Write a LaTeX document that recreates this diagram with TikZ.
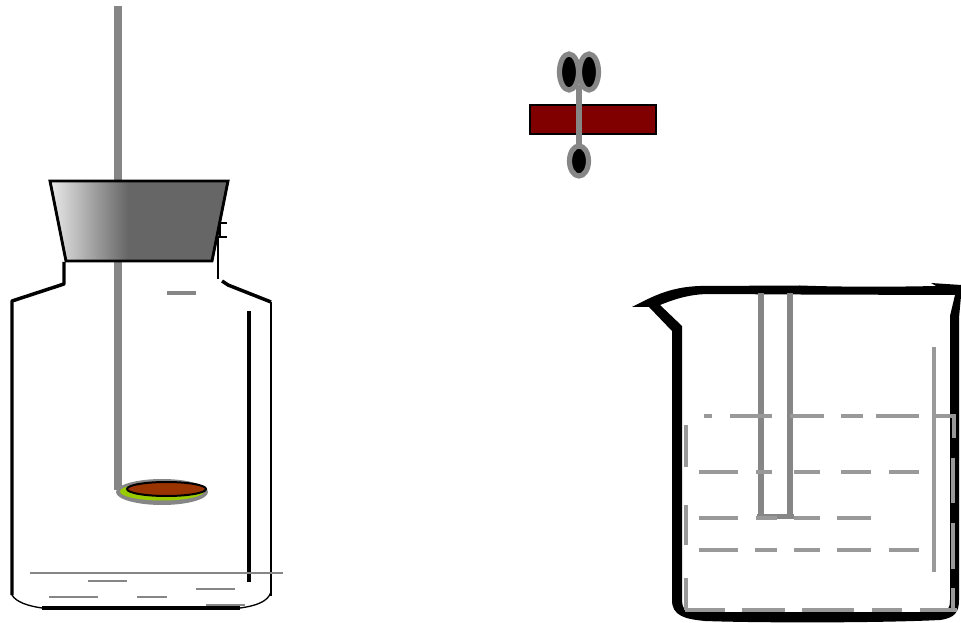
\documentclass[tikz,border=0pt]{standalone}
\usepackage{tikz}
\definecolor{rodg}{HTML}{868686}
\definecolor{dashg}{HTML}{999999}
\definecolor{stopd}{HTML}{666666}
\definecolor{stopl}{HTML}{EAEAEA}
\definecolor{brownd}{HTML}{993300}
\definecolor{greenl}{HTML}{99CC00}
\definecolor{redd}{HTML}{800000}
\tikzset{
  rod/.style={draw=rodg,line width=6pt},
  wall/.style={draw=black,line width=2.6pt,line join=round},
  thin wall/.style={draw=black,line width=1.6pt},
  corner wall/.style={draw=black,line width=1pt},
  waterline/.style={draw=rodg,line width=1.5pt},
  wdash/.style={draw=dashg,line width=3.4pt},
  eye/.style={draw=rodg,fill=black,line width=3.9pt},
}
\begin{document}
\begin{tikzpicture}[x=0.75pt,y=-0.75pt]
\useasboundingbox (0,0) rectangle (961,623);
% rod of the left vessel
\draw[rod] (118,6) -- (118,490);
% bottle
\draw[wall] (64,262) -- (64,284) -- (12,301) -- (12,595);
\draw[corner wall] (12,595) .. controls (16,602) and (28,606) .. (42,608);
\draw[wall] (42,608) -- (240,608);
\draw[corner wall] (240,608) .. controls (255,606) and (268,602) .. (271,592);
\draw[thin wall] (271,596) -- (271,302);
\draw[wall] (271,302) -- (228,285) -- (222,281);
\draw[thin wall] (218,279) -- (218,238);
\draw[draw=black,line width=1pt] (218,237) -- (227,237) (219,223) -- (227,223) (220,223) -- (220,236);
% stopper
\begin{scope}
\clip (50,181) -- (228,181) -- (212,261) -- (66,261) -- cycle;
\shade[left color=stopl,right color=stopd] (50,181) rectangle (128,261);
\fill[stopd] (127.5,181) rectangle (228,261);
\end{scope}
\draw[black,line width=2.2pt,line join=miter] (50,181) -- (228,181) -- (212,261) -- (66,261) -- cycle;
% small parts inside the bottle
\draw[rod,line width=3.2pt] (167,293) -- (196,293);
\draw[black,line width=2.6pt] (249,311) -- (249,582);
% liquid
\draw[waterline] (30,573) -- (283,573);
\draw[waterline] (88,581) -- (127,581);
\draw[waterline] (49,597) -- (98,597);
\draw[waterline] (137,597) -- (167,597);
\draw[waterline] (196,589) -- (235,589);
\draw[waterline,line width=2pt] (206,605) -- (245,605);
% disc
\fill[rodg] (162,492) ellipse [x radius=46,y radius=13];
\fill[greenl] (162,491.5) ellipse [x radius=42,y radius=9];
\draw[black,fill=brownd,line width=1.5pt] (166.5,489) ellipse [x radius=39.5,y radius=7];
% red plate and clips
\draw[black,fill=redd,line width=1.5pt] (530,105) rectangle (656,134);
\draw[eye] (569,72) ellipse [x radius=9.5,y radius=18];
\draw[eye] (589,72) ellipse [x radius=9.5,y radius=18];
\draw[eye] (579,161) ellipse [x radius=9.5,y radius=15];
\draw[rod,line width=4.2pt] (579,85) -- (579,147);
% beaker
\fill[black,even odd rule]
  (632,307) .. controls (650,298) and (668,287) .. (700,286)
  -- (800,285.5) .. controls (840,287) and (890,287) .. (936,286) -- (931,283) -- (961,285)
  -- (961,296) -- (959,318) -- (959,600) .. controls (959,612) and (955,618) .. (940,620)
  .. controls (880,623) and (760,623) .. (705,621) .. controls (685,619) and (672,616) .. (672,600)
  -- (672,331) -- (649,307) -- cycle
  (660,305) -- (682,326) -- (682,598) .. controls (682,608) and (684,612) .. (695,612)
  -- (940,612) .. controls (948,612) and (950,608) .. (950,600)
  -- (950,316) -- (955,295) -- (800,294.5) -- (710,294) .. controls (690,294) and (675,299) .. (660,305) -- cycle;
% beaker rods
\draw[rod,line width=4pt] (761,293) -- (761,518);
\draw[rod,line width=4pt] (790,293) -- (790,518);
\draw[rod,line width=4pt] (757,516.5) -- (794,516.5);
% dashes
\foreach \a/\b in {704/712,730/772,790/824,841/863,876/919} \draw[wdash] (\a,416) -- (\b,416);
\draw[wdash] (935,416) -- (954,416) -- (954,438);
\foreach \a/\b in {699/738,756/772,794/820,841/871,889/919} \draw[wdash] (\a,472) -- (\b,472);
\foreach \a/\b in {699/738,756/777,794/820,837/871} \draw[wdash] (\a,518) -- (\b,518);
\foreach \a/\b in {699/738,755/777,794/820,837/871,889/919} \draw[wdash] (\a,550) -- (\b,550);
\foreach \a/\b in {685/725,742/785,802/854,872/902,920/957} \draw[wdash] (\a,610) -- (\b,610);
\foreach \a/\b in {425/467,505/545,578/610} \draw[wdash,line width=3pt] (686,\a) -- (686,\b);
\foreach \a/\b in {458/503,523/569,588/610} \draw[wdash] (953,\a) -- (953,\b);
\draw[wdash] (934,347) -- (934,572);
\end{tikzpicture}
\end{document}
